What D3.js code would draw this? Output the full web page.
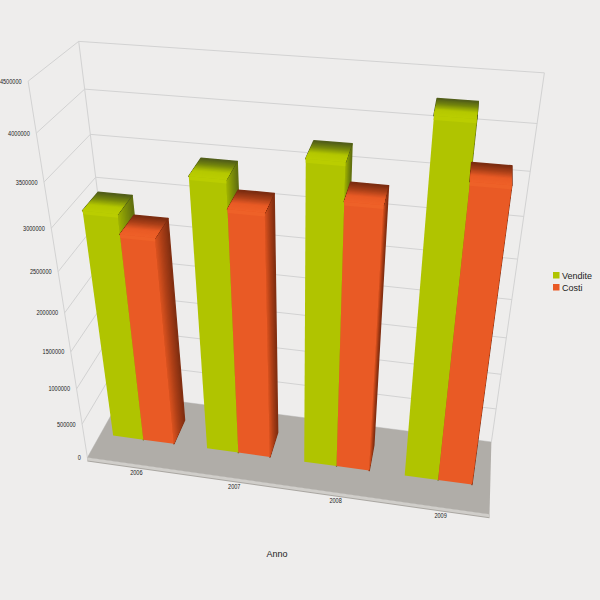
<!DOCTYPE html>
<html><head><meta charset="utf-8">
<script src="https://cdn.jsdelivr.net/npm/d3@7"></script>
<style>html,body{margin:0;padding:0;background:#eeedec}svg{display:block}text{font-family:"Liberation Sans",Arial,sans-serif;fill:#222}</style>
</head><body><svg id="c" width="600" height="600"></svg>
<script>
const categories = ["2006","2007","2008","2009"];
const seriesNames = ["Vendite","Costi"];
const vendite = [2995000,3490000,3780000,4300000];
const costi = [2760000,3170000,3370000,3690000];
const tickValues = [0,500000,1000000,1500000,2000000,2500000,3000000,3500000,4000000,4500000];
const seriesColors = ["#b0c400","#e95a25"];
const topStops = [["#4f5b1a","#76880c","#b4c800","#bacd00"],["#782b10","#a83f18","#e85a25","#ee6128"]];
const sideStops = [["#9fb200","#7d8f08","#5f6e10"],["#d9521f","#a83d16","#7f2e10"]];

// box corners (u across, v up, w into the depth) -> picture, for the perspective
const calib = [
 [0,0,0,86,456],[1,0,0,490,515],[1,0,1,491,441],[0,0,1,124,396],
 [0,1,1,78,42],[1,1,1,544,71],[0,1,0,29,80],[1,1,0,549,123]];
function solveProjection(pts){
  const rows=[],rhs=[];
  pts.forEach(([u,v,w,x,y])=>{
    rows.push([u,v,w,1,0,0,0,0,-x*u,-x*v,-x*w]);rhs.push(x);
    rows.push([0,0,0,0,u,v,w,1,-y*u,-y*v,-y*w]);rhs.push(y);
  });
  const n=11,M=d3.range(n).map(i=>d3.range(n+1).map(j=>{
    let s=0;rows.forEach((r,k)=>{s+=r[i]*(j<n?r[j]:rhs[k]);});return s;}));
  for(let i=0;i<n;i++){
    let p=i;for(let k=i+1;k<n;k++)if(Math.abs(M[k][i])>Math.abs(M[p][i]))p=k;
    [M[i],M[p]]=[M[p],M[i]];
    for(let k=0;k<n;k++){if(k===i)continue;const f=M[k][i]/M[i][i];for(let j=i;j<=n;j++)M[k][j]-=f*M[i][j];}
  }
  return M.map((r,i)=>r[n]/r[i]);
}
const H=solveProjection(calib);
function P(u,v,w){
  const d=H[8]*u+H[9]*v+H[10]*w+1;
  return [(H[0]*u+H[1]*v+H[2]*w+H[3])/d,(H[4]*u+H[5]*v+H[6]*w+H[7])/d];
}
const svg=d3.select("#c");
const yS=d3.scaleLinear().domain([0,4500000]).range([0,1]);
const xS=d3.scaleBand().domain(categories).range([-0.01,1.0]).paddingInner(0.35).paddingOuter(0.175);
const sS=d3.scaleBand().domain(seriesNames).range([0,xS.bandwidth()]);
const W0=0.355,W1=0.72,rim=0.009;
const pts=a=>a.map(p=>p.map(n=>n.toFixed(2)).join(",")).join(" ");

svg.append("rect").attr("width",600).attr("height",600).attr("fill","#eeedec");

// walls
const gridCol="#d2d2d2";
const wall=svg.append("g").attr("fill","none").attr("stroke",gridCol).attr("stroke-width",1);
tickValues.forEach(t=>{
  const v=yS(t);
  wall.append("polyline").attr("points",pts([P(0,v,0),P(0,v,1),P(1,v,1)]));
});
wall.append("polyline").attr("points",pts([P(0,0,0),P(0,1,0)]));
wall.append("polyline").attr("points",pts([P(0,0,1),P(0,1,1)]));
wall.append("polyline").attr("points",pts([P(1,0,1),P(1,1,1)]));

// floor
const fl=[P(0,0,0),P(1,0,0),P(1,0,1),P(0,0,1)];
const off=(p,d)=>[p[0],p[1]+d];
svg.append("polygon").attr("points",pts([fl[0],fl[1],off(fl[1],4),off(fl[0],4)])).attr("fill","#a9a6a1");
svg.append("polygon").attr("points",pts([fl[0],fl[1],off(fl[1],3),off(fl[0],3)])).attr("fill","#d0ceca");
svg.append("polygon").attr("points",pts(fl)).attr("fill","#b0ada8");

// a shaded face as nested layers, back to front, so no seams show
function layers(corner,stops,n){
  const col=d3.piecewise(d3.interpolateRgb,stops);
  d3.range(n).forEach(i=>{
    const a=W1+(W0-W1)*i/n,c=col((i+0.5)/n);
    const poly=svg.append("polygon").attr("points",pts(corner(a))).attr("fill",c);
    if(i===0)poly.attr("stroke",c).attr("stroke-width",1.5).attr("stroke-linejoin","round");
  });
}
// bars
categories.forEach((cat,ci)=>{
  [vendite,costi].forEach((vals,si)=>{
    const u0=xS(cat)+sS(seriesNames[si]),u1=u0+sS.bandwidth(),v=yS(vals[ci]);
    layers(a=>[P(u1,0,a),P(u1,v,a),P(u1,v,W0),P(u1,0,W0)],[...sideStops[si]].reverse(),12);
    layers(a=>[P(u0,v,a),P(u1,v,a),P(u1,v,W0),P(u0,v,W0)],topStops[si],18);
    svg.append("polygon").attr("points",pts([P(u0,0,W0),P(u1,0,W0),P(u1,v,W0),P(u0,v,W0)])).attr("fill",seriesColors[si]);
    svg.append("polygon").attr("points",pts([P(u0,v-rim,W0),P(u1,v-rim,W0),P(u1,v,W0),P(u0,v,W0)])).attr("fill",topStops[si][3]);
  });
});

// tick labels
const fit=(sel,t)=>sel.attr("font-size",7).attr("textLength",String(t).length*3.1).attr("lengthAdjust","spacingAndGlyphs").text(t);
tickValues.forEach(t=>{
  const p=P(0,yS(t),0);
  fit(svg.append("text").attr("x",p[0]-6.5).attr("y",p[1]+2.5).attr("text-anchor","end"),t);
});
categories.forEach(cat=>{
  const p=P(xS(cat)+xS.bandwidth()/2,0,0);
  fit(svg.append("text").attr("x",p[0]+5).attr("y",p[1]+11).attr("text-anchor","middle"),cat);
});
svg.append("text").attr("x",277).attr("y",557).attr("text-anchor","middle").attr("font-size",9).text("Anno");
// legend
const legendY=d3.scalePoint().domain(seriesNames).range([272,284]);
seriesNames.forEach((n,i)=>{
  svg.append("rect").attr("x",553).attr("y",legendY(n)).attr("width",6.5).attr("height",6.5).attr("fill",seriesColors[i]);
  svg.append("text").attr("x",562).attr("y",legendY(n)+6.5).attr("font-size",9).text(n);
});
</script></body></html>
